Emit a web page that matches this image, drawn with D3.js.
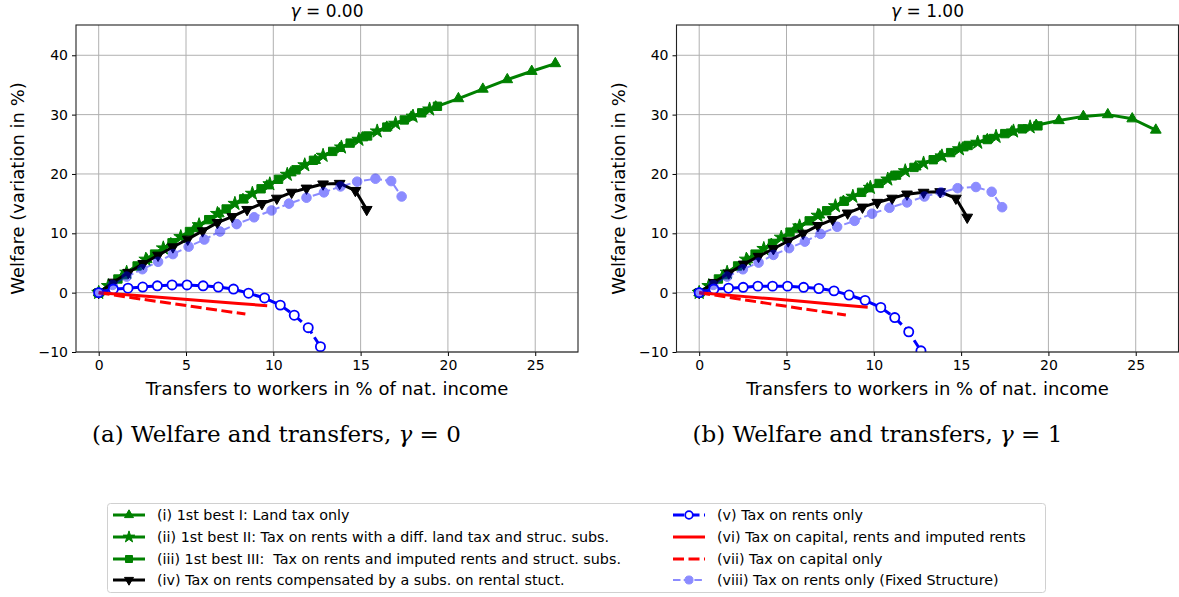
<!DOCTYPE html>
<html>
<head>
<meta charset="utf-8">
<script src="https://cdn.jsdelivr.net/npm/d3@7"></script>
<style>
  body { margin: 0; background: #fff; }
  svg { display: block; font-family: 'DejaVu Sans', sans-serif; }
  text { white-space: pre; }
</style>
</head>
<body>
<svg id="chart" width="1179" height="597"></svg>
<script>
// ---- data ----
const xTicks = [0, 5, 10, 15, 20, 25];
const yTicks = [-10, 0, 10, 20, 30, 40];
const gammas = ['0.00', '1.00'];
const captions = ['(a) Welfare and transfers, ', '(b) Welfare and transfers, '];
const captionGammas = ['0', '1'];

// (i) land tax only
const landTaxX = [0, 1.38, 2.75, 4.13, 5.5, 6.88, 8.26, 9.63, 11.0, 12.4, 13.8, 15.1, 16.5, 17.9, 19.3, 20.6, 22.0, 23.4, 24.8, 26.15];
const landTaxY0 = [0, 2.85, 5.59, 8.26, 10.8, 13.3, 15.7, 18.0, 20.2, 22.3, 24.3, 26.1, 27.9, 29.6, 31.3, 32.7, 34.3, 35.9, 37.3, 38.6];
const landTaxY1 = [0, 2.85, 5.55, 8.15, 10.7, 13.1, 15.4, 17.5, 19.5, 21.2, 22.9, 24.4, 25.8, 27.1, 28.2, 29.0, 29.7, 30.0, 29.3, 27.4];

// (ii) diff. land tax and struc. subs.
const diffLandX = [0, 0.55, 1.6, 2.7, 3.7, 4.7, 5.75, 6.8, 7.8, 8.8, 9.8, 10.8, 11.8, 12.85, 13.9, 14.9, 15.95, 17.0, 18.0, 18.95];
const diffLandY0 = [0, 1.15, 3.4, 5.6, 7.5, 9.4, 11.4, 13.3, 15.0, 16.7, 18.3, 19.9, 21.5, 23.1, 24.5, 25.8, 27.2, 28.5, 29.7, 30.9];
const diffLandY1 = [0, 1.15, 3.4, 5.6, 7.4, 9.3, 11.2, 13.0, 14.6, 16.2, 17.7, 19.1, 20.5, 21.8, 23.0, 24.2, 25.3, 26.3, 27.2, 27.9];

// (iii) rents and imputed rents and struct. subs.
const imputedX = [0, 1.1, 2.2, 3.2, 4.2, 5.2, 6.3, 7.3, 8.3, 9.3, 10.3, 11.3, 12.3, 13.4, 14.4, 15.4, 16.5, 17.5, 18.5, 19.4];
const imputedY0 = [0, 2.3, 4.5, 6.5, 8.4, 10.3, 12.3, 14.1, 15.8, 17.5, 19.1, 20.7, 22.3, 23.8, 25.2, 26.4, 27.9, 29.1, 30.3, 31.4];
const imputedY1 = [0, 2.3, 4.5, 6.5, 8.3, 10.2, 12.1, 13.8, 15.4, 16.9, 18.4, 19.8, 21.1, 22.4, 23.6, 24.8, 25.8, 26.8, 27.6, 28.1];

// (iv) rents compensated by a subs. on rental struct.
const rentalSubsX = [0, 0.85, 1.7, 2.55, 3.4, 4.25, 5.1, 5.95, 6.8, 7.65, 8.5, 9.35, 10.2, 11.05, 11.9, 12.85, 13.8, 14.7, 15.35];
const rentalSubsY0 = [0, 1.75, 3.4, 4.9, 6.3, 7.7, 9.0, 10.4, 11.8, 12.8, 14.0, 15.0, 15.9, 16.9, 17.6, 18.3, 18.4, 17.2, 14.0];
const rentalSubsY1 = [0, 1.7, 3.3, 4.8, 6.1, 7.4, 8.7, 10.0, 11.3, 12.3, 13.4, 14.4, 15.2, 15.9, 16.6, 16.9, 17.0, 15.9, 12.7];

// (v) rents only
const rentsOnlyX = [0, 0.84, 1.68, 2.52, 3.36, 4.2, 5.06, 5.98, 6.85, 7.72, 8.58, 9.5, 10.4, 11.2, 12.0, 12.7];
const rentsOnlyY0 = [0, 0.6, 0.75, 0.95, 1.15, 1.3, 1.3, 1.15, 0.95, 0.6, -0.1, -0.9, -2.1, -3.8, -5.9, -9.1];
const rentsOnlyY1 = [0, 0.6, 0.75, 0.9, 1.1, 1.1, 1.1, 0.9, 0.7, 0.3, -0.4, -1.3, -2.5, -4.2, -6.6, -9.8];

// (vi) capital, rents and imputed rents
const capRentsX = [0, 2, 4, 6, 8, 9.65];
const capRentsY0 = [0, -0.45, -0.9, -1.36, -1.82, -2.2];
const capRentsY1 = [0, -0.5, -1.0, -1.5, -2.02, -2.45];

// (vii) capital only
const capOnlyX = [0, 2, 4, 6, 8.4];
const capOnlyY0 = [0, -0.9, -1.75, -2.6, -3.6];
const capOnlyY1 = [0, -0.95, -1.85, -2.75, -3.75];

// (viii) rents only, fixed structure
const fixedX = [0, 0.8, 1.6, 2.5, 3.4, 4.25, 5.15, 6.05, 6.95, 7.9, 8.9, 9.9, 10.9, 11.9, 12.9, 13.85, 14.8, 15.85, 16.75, 17.35];
const fixedY0 = [0, 1.3, 2.7, 3.95, 5.2, 6.5, 7.75, 8.95, 10.3, 11.55, 12.7, 13.85, 15.0, 16.0, 16.9, 17.9, 18.7, 19.2, 18.8, 16.2];
const fixedY1 = [0, 1.3, 2.7, 3.94, 5.06, 6.36, 7.5, 8.6, 9.9, 11.1, 12.1, 13.3, 14.3, 15.2, 16.2, 16.9, 17.6, 17.8, 17.0, 14.4];

// ---- series styles ----
const series = [
  { label: '(i) 1st best I: Land tax only', x: landTaxX, y: [landTaxY0, landTaxY1],
    color: '#008000', width: 3, dash: null, symbol: d3.symbolTriangle, size: 50, rotate: 0 },
  { label: '(ii) 1st best II: Tax on rents with a diff. land tax and struc. subs.', x: diffLandX, y: [diffLandY0, diffLandY1],
    color: '#008000', width: 3, dash: null, symbol: d3.symbolStar, size: 60, rotate: 0 },
  { label: '(iii) 1st best III:  Tax on rents and imputed rents and struct. subs.', x: imputedX, y: [imputedY0, imputedY1],
    color: '#008000', width: 3, dash: null, symbol: d3.symbolSquare, size: 70, rotate: 0 },
  { label: '(iv) Tax on rents compensated by a subs. on rental stuct.', x: rentalSubsX, y: [rentalSubsY0, rentalSubsY1],
    color: '#000000', width: 3, dash: null, symbol: d3.symbolTriangle, size: 50, rotate: 180 },
  { label: '(v) Tax on rents only', x: rentsOnlyX, y: [rentsOnlyY0, rentsOnlyY1],
    color: '#0000ff', width: 3, dash: '11,4.5', symbol: d3.symbolCircle, size: 66, rotate: 0, open: true },
  { label: '(vi) Tax on capital, rents and imputed rents', x: capRentsX, y: [capRentsY0, capRentsY1],
    color: '#ff0000', width: 3, dash: null, symbol: null },
  { label: '(vii) Tax on capital only', x: capOnlyX, y: [capOnlyY0, capOnlyY1],
    color: '#ff0000', width: 3, dash: '11,4.5', symbol: null },
  { label: '(viii) Tax on rents only (Fixed Structure)', x: fixedX, y: [fixedY0, fixedY1],
    color: '#0000ff', width: 2, dash: '7.5,3.2', symbol: d3.symbolCircle, size: 72, rotate: 0, opacity: 0.45 },
];

const svg = d3.select('#chart');
const plotTop = 25;
const plotBottom = 352;
const panelLefts = [76, 676.5];
const plotWidth = 502;

const drawMarker = (g, s, cx, cy) => {
  g.append('path')
    .attr('d', d3.symbol().type(s.symbol).size(s.size)())
    .attr('transform', `translate(${cx},${cy}) rotate(${s.rotate})`)
    .attr('fill', s.open ? '#fff' : s.color)
    .attr('stroke', s.color)
    .attr('stroke-width', s.open ? 1.8 : 1);
};

const renderPanel = (p) => {
  const left = panelLefts[p];
  const x = d3.scaleLinear().domain([-1.3, 27.45]).range([left, left + plotWidth]);
  const y = d3.scaleLinear().domain([-10, 45.1]).range([plotBottom, plotTop]);
  const g = svg.append('g');

  // grid
  g.append('g')
    .selectAll('line')
    .data(xTicks)
    .enter()
    .append('line')
    .attr('x1', d => x(d)).attr('x2', d => x(d))
    .attr('y1', plotTop).attr('y2', plotBottom)
    .attr('stroke', '#b0b0b0').attr('stroke-width', 1);
  g.append('g')
    .selectAll('line')
    .data(yTicks)
    .enter()
    .append('line')
    .attr('x1', left).attr('x2', left + plotWidth)
    .attr('y1', d => y(d)).attr('y2', d => y(d))
    .attr('stroke', '#b0b0b0').attr('stroke-width', 1);

  // series
  const clipId = `clip${p}`;
  svg.append('clipPath').attr('id', clipId)
    .append('rect')
    .attr('x', left).attr('y', plotTop)
    .attr('width', plotWidth).attr('height', plotBottom - plotTop);

  const plot = g.append('g').attr('clip-path', `url(#${clipId})`);
  series.forEach(s => {
    const ys = s.y[p];
    const pts = s.x.map((v, i) => [x(v), y(ys[i])]);
    const sg = plot.append('g').attr('opacity', s.opacity || 1);
    sg.append('path')
      .attr('d', d3.line()(pts))
      .attr('fill', 'none')
      .attr('stroke', s.color)
      .attr('stroke-width', s.width)
      .attr('stroke-dasharray', s.dash)
      .attr('stroke-linejoin', 'round');
    if (s.symbol) {
      pts.forEach(pt => drawMarker(sg, s, pt[0], pt[1]));
    }
  });

  // axes
  g.append('g')
    .attr('transform', `translate(0,${plotBottom})`)
    .call(d3.axisBottom(x).tickValues(xTicks).tickSize(4).tickPadding(4).tickSizeOuter(0))
    .call(a => a.select('.domain').remove())
    .call(a => a.selectAll('text').attr('font-size', 14).attr('fill', '#000').attr('font-family', 'DejaVu Sans'));
  g.append('g')
    .attr('transform', `translate(${left},0)`)
    .call(d3.axisLeft(y).tickValues(yTicks).tickFormat(d => (d < 0 ? '\u2212' + Math.abs(d) : d)).tickSize(4).tickPadding(4).tickSizeOuter(0))
    .call(a => a.select('.domain').remove())
    .call(a => a.selectAll('text').attr('font-size', 14).attr('fill', '#000').attr('font-family', 'DejaVu Sans'));

  g.append('rect')
    .attr('x', left).attr('y', plotTop)
    .attr('width', plotWidth).attr('height', plotBottom - plotTop)
    .attr('fill', 'none').attr('stroke', '#222').attr('stroke-width', 1.1);

  // title
  const title = g.append('text')
    .attr('x', left + plotWidth / 2).attr('y', 17)
    .attr('text-anchor', 'middle').attr('font-size', 17);
  title.append('tspan').attr('font-style', 'italic').text('γ');
  title.append('tspan').text(` = ${gammas[p]}`);

  // axis labels
  g.append('text')
    .attr('x', left + plotWidth / 2).attr('y', 395)
    .attr('text-anchor', 'middle').attr('font-size', 18)
    .text('Transfers to workers in % of nat. income');
  g.append('text')
    .attr('transform', `translate(${left - 52},${(plotTop + plotBottom) / 2}) rotate(-90)`)
    .attr('text-anchor', 'middle').attr('font-size', 18)
    .text('Welfare (variation in %)');

  // caption
  const cap = g.append('text')
    .attr('x', left + 16).attr('y', 442)
    .attr('font-family', 'DejaVu Serif, serif').attr('font-size', 23);
  cap.append('tspan').text(captions[p]);
  cap.append('tspan').attr('font-style', 'italic').text('γ');
  cap.append('tspan').text(` = ${captionGammas[p]}`);
};

renderPanel(0);
renderPanel(1);

// legend
const legend = svg.append('g');
legend.append('rect')
  .attr('x', 107.5).attr('y', 503.5).attr('width', 938).attr('height', 89)
  .attr('rx', 3)
  .attr('fill', '#fff').attr('stroke', '#d0d0d0');
const colX = [113, 673];
const rowY = [515, 537, 559, 580];
series.forEach((s, i) => {
  const col = i < 4 ? 0 : 1;
  const row = i % 4;
  const hx = colX[col];
  const hy = rowY[row];
  const hg = legend.append('g').attr('opacity', s.opacity || 1);
  hg.append('line')
    .attr('x1', hx).attr('x2', hx + 32)
    .attr('y1', hy).attr('y2', hy)
    .attr('stroke', s.color).attr('stroke-width', s.width)
    .attr('stroke-dasharray', s.dash);
  if (s.symbol) {
    drawMarker(hg, Object.assign({}, s, { size: s.size * 0.7 }), hx + 16, hy);
  }
  legend.append('text')
    .attr('x', hx + 44).attr('y', hy + 5)
    .attr('font-size', 14.3)
    .text(s.label);
});
</script>
</body>
</html>
